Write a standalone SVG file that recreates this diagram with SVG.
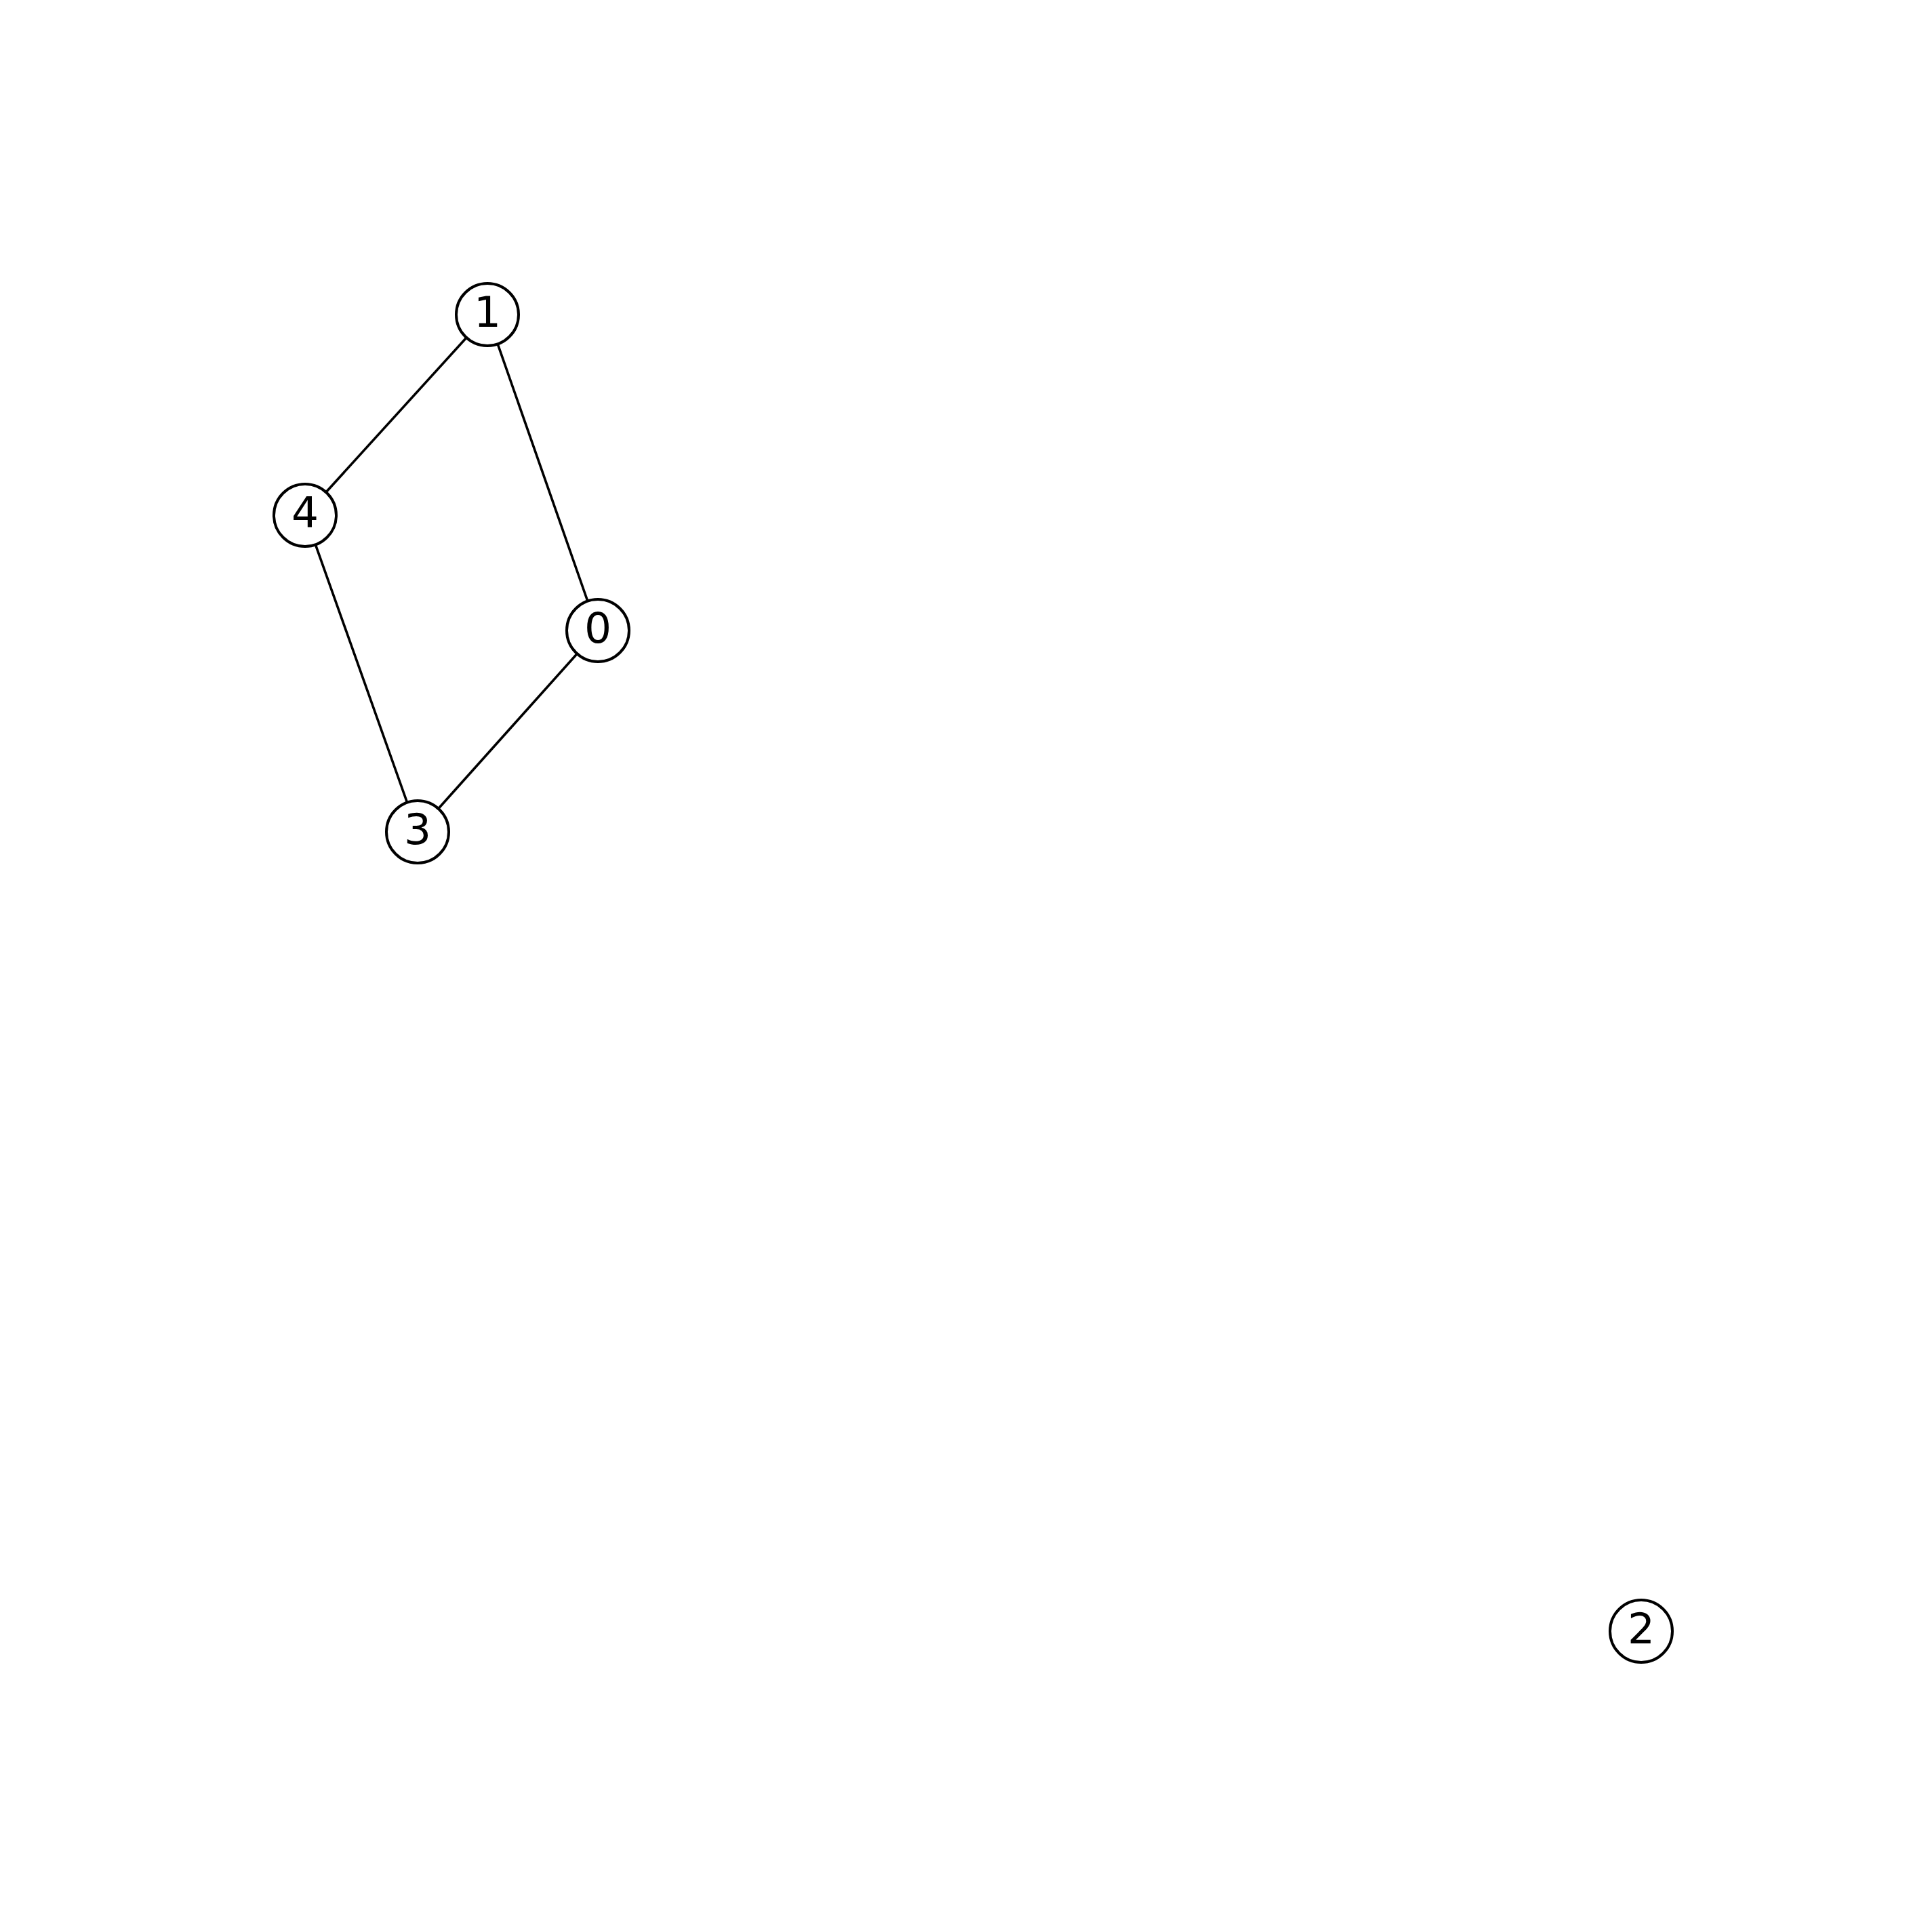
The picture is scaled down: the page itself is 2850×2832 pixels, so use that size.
<svg xmlns="http://www.w3.org/2000/svg" width="2850" height="2832" viewBox="0 0 2850 2832">
<style>
.edge{stroke:#000;stroke-width:3.6;fill:none}
.node circle{fill:#fff;stroke:#000;stroke-width:4}
.node text{font-family:"DejaVu Sans",sans-serif;font-size:63px;text-anchor:middle;fill:#000}
</style>
<rect x="0" y="0" width="2850" height="2832" fill="#fff"/>
<g id="edges">
<line class="edge" x1="719" y1="464" x2="450" y2="760"/>
<line class="edge" x1="719" y1="464" x2="882" y2="930"/>
<line class="edge" x1="450" y1="760" x2="616" y2="1227"/>
<line class="edge" x1="882" y1="930" x2="616" y2="1227"/>
</g>
<g id="node0" class="node"><circle cx="882" cy="930" r="46"/><text x="882" y="948">0</text></g>
<g id="node1" class="node"><circle cx="719" cy="464" r="46"/><text x="719" y="482">1</text></g>
<g id="node2" class="node"><circle cx="2421" cy="2406" r="46"/><text x="2421" y="2424">2</text></g>
<g id="node3" class="node"><circle cx="616" cy="1227" r="46"/><text x="616" y="1245">3</text></g>
<g id="node4" class="node"><circle cx="450" cy="760" r="46"/><text x="450" y="778">4</text></g>
</svg>
